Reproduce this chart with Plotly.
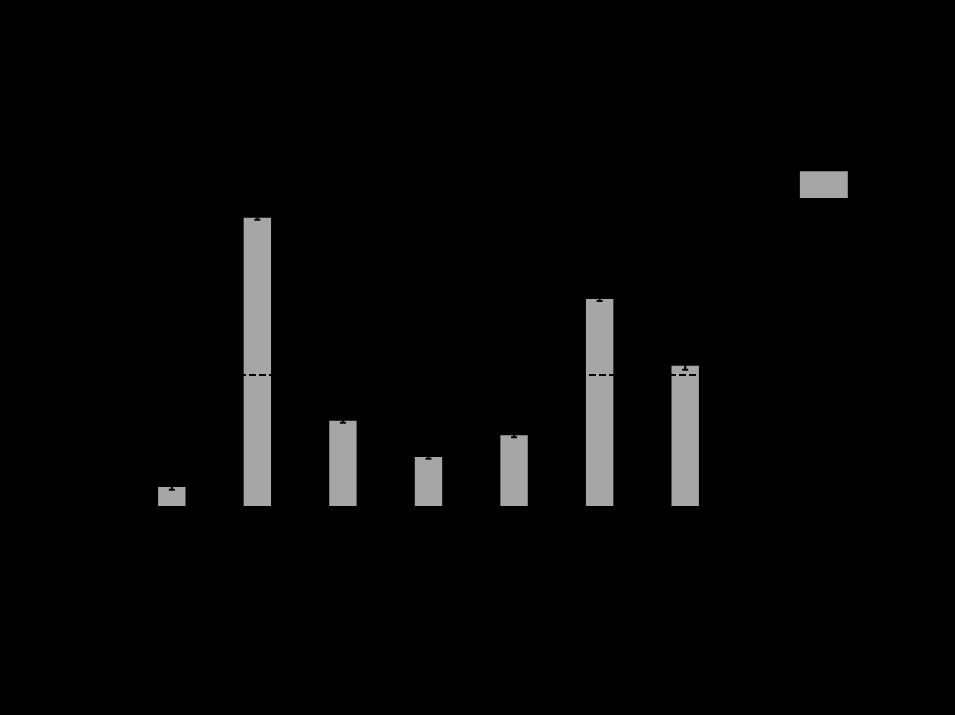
import plotly.graph_objects as go

# Samples and their mean fold change with standard error
samples = ["S1", "S2", "S3", "S4", "S5", "S6", "S7"]
fold_change = [0.29, 4.40, 1.30, 0.75, 1.08, 3.16, 2.14]
std_error = [0.04, 0.03, 0.03, 0.03, 0.03, 0.03, 0.06]
threshold = 2.0

BAR_GREY = "#a6a6a6"
INK = "#000000"

fig = go.Figure()
fig.add_trace(go.Bar(
    x=samples,
    y=fold_change,
    name="Fold change",
    marker=dict(color=BAR_GREY, line=dict(width=0)),
    width=0.32,
    error_y=dict(type="data", array=std_error, color=INK, thickness=2, width=3),
    showlegend=False,
))

# Threshold reference line across the plot
fig.add_shape(type="line", xref="paper", yref="y", x0=0, x1=1, y0=threshold, y1=threshold,
              line=dict(color=INK, width=2, dash="7px,3px"))

# Legend key drawn as a swatch plus label
fig.add_shape(type="rect", xref="paper", yref="paper", x0=1.12, x1=1.2, y0=0.784, y1=0.852,
              fillcolor=BAR_GREY, line=dict(width=0))
fig.add_annotation(xref="paper", yref="paper", x=1.22, y=0.818, text="Fold change",
                   showarrow=False, xanchor="left", font=dict(color=INK, size=14))

fig.update_layout(
    width=955, height=715,
    margin=dict(l=129, r=227, t=113, b=209),
    paper_bgcolor="#000000",
    plot_bgcolor="#000000",
    font=dict(family="Liberation Sans, Arial", color=INK, size=14),
    xaxis=dict(showgrid=False, linecolor=INK, ticks="outside", tickcolor=INK),
    yaxis=dict(range=[0, 6], showgrid=False, zeroline=False, linecolor=INK,
               ticks="outside", tickcolor=INK, title=dict(text="Fold change")),
)

fig.write_html("out.html")
